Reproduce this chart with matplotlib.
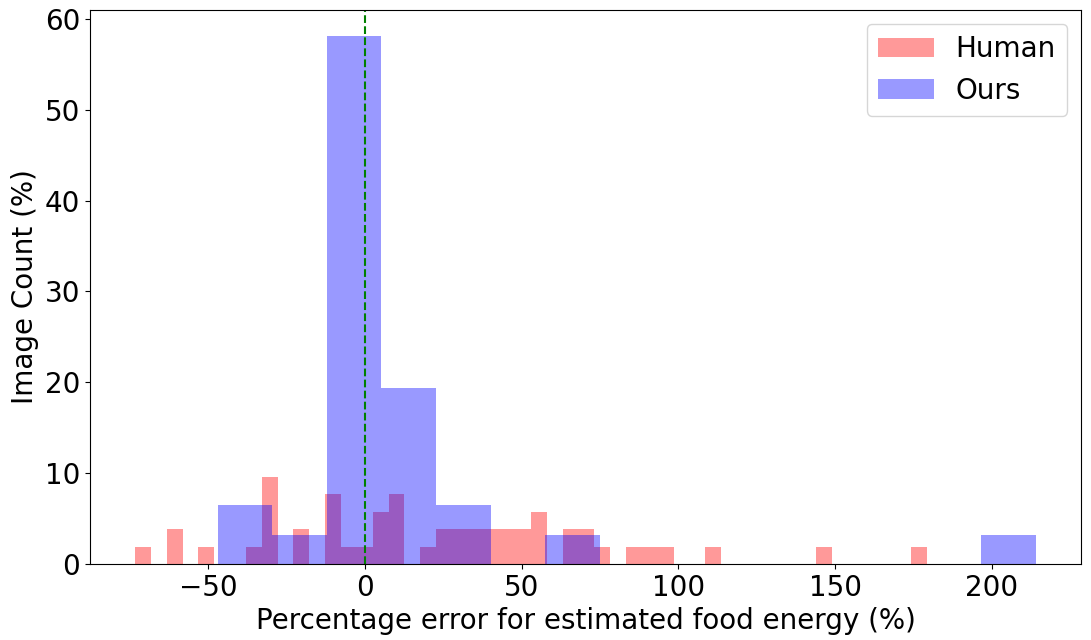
import numpy as np
import matplotlib
matplotlib.use("Agg")
import matplotlib.pyplot as plt

# Human: 50 bins, counts per bin (52 images)
human_lo, human_hi, human_nbins = -73.2, 179.3, 50
human_counts = [1, 0, 2, 0, 1, 0, 0, 1, 5, 0,
                2, 0, 4, 1, 1, 3, 4, 0, 1, 2,
                2, 2, 2, 2, 2, 3, 0, 2, 2, 1,
                0, 1, 1, 1, 0, 0, 1, 0, 0, 0,
                0, 0, 0, 1, 0, 0, 0, 0, 0, 1]

# Ours: 15 bins, counts per bin (31 images)
ours_lo, ours_hi, ours_nbins = -46.8, 214.0, 15
ours_counts = [2, 1, 18, 6, 2, 0, 1, 0, 0, 0, 0, 0, 0, 0, 1]

human_edges = np.linspace(human_lo, human_hi, human_nbins + 1)
ours_edges = np.linspace(ours_lo, ours_hi, ours_nbins + 1)
human_pct = np.array(human_counts) / sum(human_counts) * 100
ours_pct = np.array(ours_counts) / sum(ours_counts) * 100

fig, ax = plt.subplots(figsize=(10.91, 6.4), dpi=100)
fig.subplots_adjust(left=90/1091, right=1081/1091, top=1-10/640, bottom=1-564/640)

ax.hist(human_edges[:-1], bins=human_edges, weights=human_pct, color='r', alpha=0.4, label='Human')
ax.hist(ours_edges[:-1], bins=ours_edges, weights=ours_pct, color='b', alpha=0.4, label='Ours')
ax.axvline(0, color='g', linestyle='--', linewidth=1.5)

ax.set_xlabel('Percentage error for estimated food energy (%)', fontsize=20)
ax.set_ylabel('Image Count (%)', fontsize=20)
ax.tick_params(labelsize=20)
ax.legend(fontsize=20, loc='upper right')

fig.savefig('out.png', dpi=100)
